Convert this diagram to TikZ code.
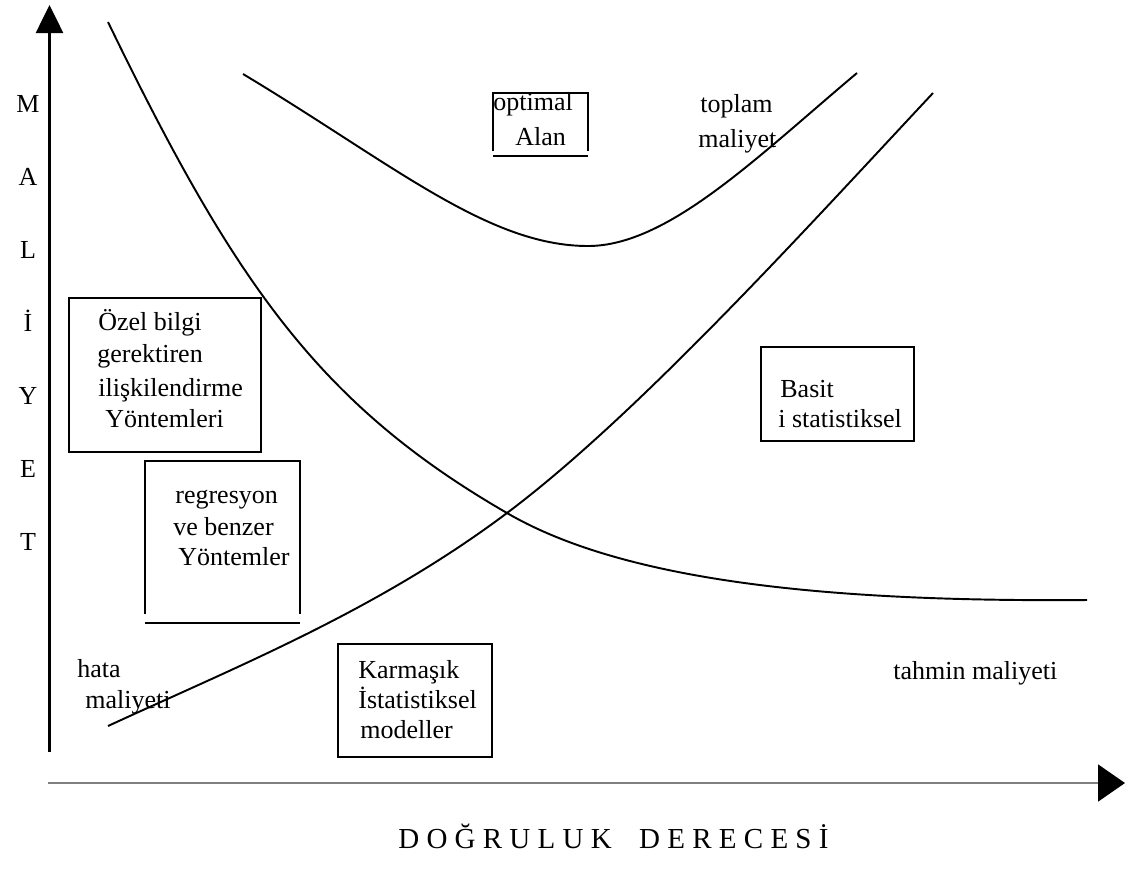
\documentclass[tikz,border=0pt]{standalone}
\usepackage{fontspec}
\setmainfont{Liberation Serif}
\usetikzlibrary{arrows.meta}
\newcommand\metin{\fontsize{14.8pt}{17pt}\selectfont}
\tikzset{
  egri/.style={line width=1.1pt},
  kutu/.style={draw, line width=1.3pt, inner sep=0pt},
  yazi/.style={anchor=base west, inner sep=0pt, font=\metin},
}

\begin{document}
\begin{tikzpicture}[x=0.02cm, y=-0.02cm]
	\useasboundingbox (0,0) rectangle (1125,877);
	% eksenler
	\coordinate (yalt) at (49.5,752);
	\coordinate (yust) at (49.5,5);
	\coordinate (xsol) at (48,783);
	\coordinate (xsag) at (1125,783);
	\draw [line width=1.5pt, -{Triangle[width=0.54cm, length=0.56cm]}] (yalt)--(yust);
	\draw [gray, line width=1pt, -{Triangle[width=0.74cm, length=0.54cm, black]}] (xsol)--(xsag);
	\foreach \harf [count=\i] in {M,A,L,İ,Y,E,T}
		\node [font=\metin, anchor=base, inner sep=0pt] (h\i) at (28,{112+73*(\i-1)}) {\harf};
	\node [font=\fontsize{16.5pt}{20pt}\selectfont, anchor=base west, inner sep=0pt] (baslik) at (398,848) {D O Ğ R U L U K\hspace{0.95em}D E R E C E S İ};
	% egriler
	\coordinate (kesisim) at (507,513);
	\draw [egri] (108,22) .. controls (235,284) and (320,405) .. (kesisim)
		.. controls (627,583) and (837,602) .. (1087,600);
	\draw [egri] (108,726) .. controls (238,666) and (377,610.5) .. (kesisim)
		.. controls (637,415.5) and (803,232) .. (933,93);
	\draw [egri] (243,74) .. controls (393,164) and (488,246) .. (588,246)
		.. controls (668,246) and (757,157) .. (857,73);
	% kutular
	\draw [kutu] (493,151)--(493,93)--(588,93)--(588,151);
	\draw [kutu] (493,156)--(588,156);
	\draw [kutu] (145,614)--(145,461)--(300,461)--(300,614);
	\draw [kutu] (145,623)--(300,623);
	\node [kutu, minimum width=3.84cm, minimum height=3.08cm] (ozel) at (165,375) {};
	\node [kutu, minimum width=3.08cm, minimum height=2.26cm] (karmasik) at (415,700.5) {};
	\node [kutu, minimum width=3.06cm, minimum height=1.88cm] (basit) at (837.5,394) {};
	% yazilar
	\node [yazi] (optimal) at (493,110) {optimal};
	\node [yazi] (alan) at (515,145) {Alan};
	\node [yazi] (toplam) at (700,112) {toplam};
	\node [yazi] (maliyet) at (698,147) {maliyet};
	\node [yazi] (ozel1) at (98,330) {Özel bilgi};
	\node [yazi] (ozel2) at (97,362) {gerektiren};
	\node [yazi] (ozel3) at (98,396) {ilişkilendirme};
	\node [yazi] (ozel4) at (105,427) {Yöntemleri};
	\node [yazi] (reg1) at (175,503) {regresyon};
	\node [yazi] (reg2) at (173,535) {ve benzer};
	\node [yazi] (reg3) at (178,565) {Yöntemler};
	\node [yazi] (basit1) at (780,397) {Basit};
	\node [yazi] (basit2) at (778,427) {i statistiksel};
	\node [yazi] (karmasik1) at (358,678) {Karmaşık};
	\node [yazi] (karmasik2) at (358,708) {İstatistiksel};
	\node [yazi] (karmasik3) at (360,738) {modeller};
	\node [yazi] (hata1) at (77,677) {hata};
	\node [yazi] (hata2) at (85,708) {maliyeti};
	\node [yazi] (tahmin) at (893,679) {tahmin maliyeti};
\end{tikzpicture}
\end{document}
